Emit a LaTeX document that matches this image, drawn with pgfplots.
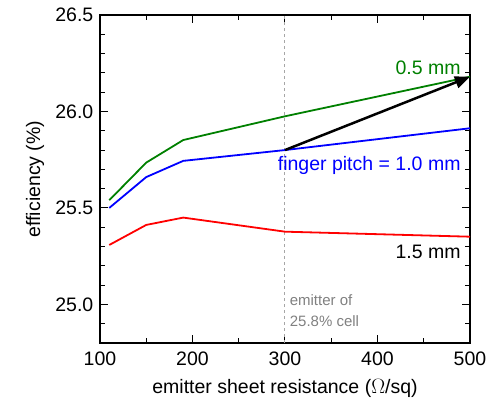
\documentclass[border=0pt]{standalone}
\usepackage{fontspec}
\setmainfont{Liberation Sans}
\usepackage{pgfplots}
\pgfplotsset{compat=1.18}
\usetikzlibrary{arrows.meta}
\definecolor{mygreen}{RGB}{0,128,0}
\begin{document}
\fontsize{19.5}{22}\selectfont
\begin{tikzpicture}
\path[use as bounding box] (-100pt,-62pt) rectangle (391pt,343pt);
\begin{axis}[
  at={(0,0)}, anchor=south west,
  scale only axis, width=370pt, height=328pt,
  xmin=100, xmax=500, ymin=24.8, ymax=26.5,
  xtick={100,200,300,400,500},
  minor xtick={150,250,350,450},
  ytick={25.0,25.5,26.0,26.5},
  minor ytick={24.9,25.1,25.2,25.3,25.4,25.6,25.7,25.8,25.9,26.1,26.2,26.3,26.4},
  yticklabel style={/pgf/number format/.cd,fixed,fixed zerofill,precision=1},
  /pgf/number format/assume math mode=true,
  tick align=inside,
  major tick length=8pt, minor tick length=5pt,
  tick style={black, line width=1pt},
  axis line style={line width=1.3pt},
  xlabel={emitter sheet resistance ($\Omega$/sq)},
  ylabel={efficiency (\%)},
  xlabel style={yshift=-1pt},
  ylabel style={yshift=-2pt},
  xticklabel style={yshift=-2pt},
  every tick label/.style={font=\fontsize{19.5}{22}\selectfont},
  label style={font=\fontsize{19.5}{22}\selectfont},
  clip=false,
]
\draw[gray!70, dashed, line width=1pt] (axis cs:300,24.8) -- (axis cs:300,26.5);
\addplot[mygreen, line width=1.8pt] coordinates {(110,25.54) (150,25.735) (190,25.852) (300,25.975) (500,26.18)};
\addplot[blue, line width=1.8pt] coordinates {(110,25.50) (150,25.66) (190,25.744) (300,25.80) (500,25.913)};
\addplot[red, line width=1.8pt] coordinates {(110,25.308) (150,25.412) (190,25.45) (300,25.377) (500,25.351)};
\draw[-{Triangle[length=15pt,width=12pt]}, line width=2.5pt, black] (axis cs:300,25.80) -- (axis cs:500,26.18);
\node[anchor=east, text=mygreen, font=\fontsize{19.5}{22}\selectfont] at (axis cs:497,26.225) {0.5 mm};
\node[anchor=east, text=blue, font=\fontsize{19.5}{22}\selectfont] at (axis cs:497,25.72) {finger pitch = 1.0 mm};
\node[anchor=east, text=black, font=\fontsize{19.5}{22}\selectfont] at (axis cs:497,25.27) {1.5 mm};
\node[anchor=north west, text=gray, align=left, font=\fontsize{15}{21}\selectfont, inner sep=0pt] at (axis cs:305,25.05) {emitter of\\25.8\% cell};
\end{axis}
\end{tikzpicture}
\end{document}
